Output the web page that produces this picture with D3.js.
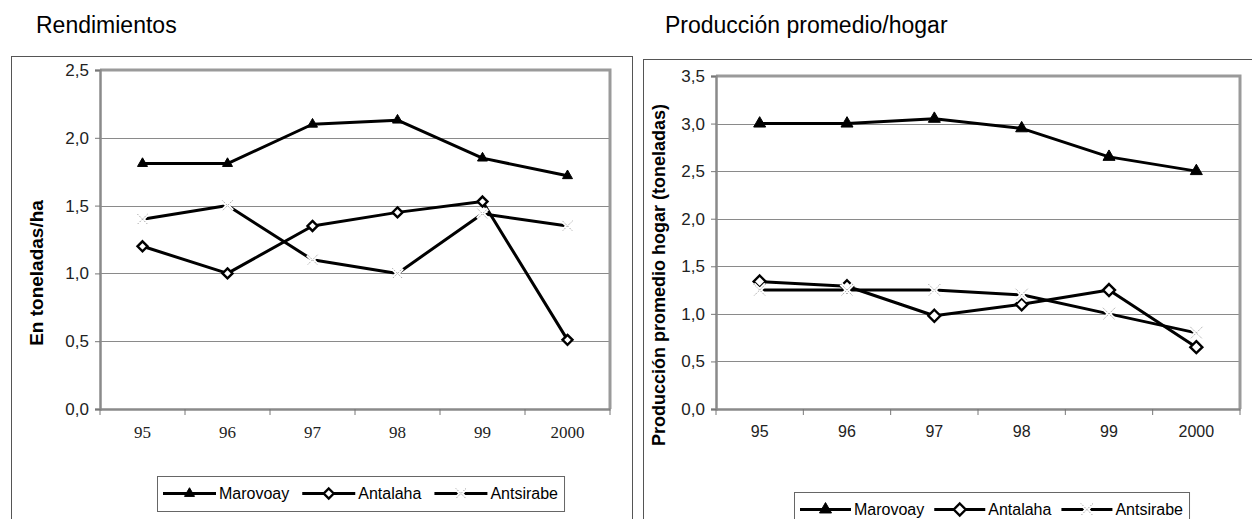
<!DOCTYPE html>
<html>
<head>
<meta charset="utf-8">
<script src="https://cdn.jsdelivr.net/npm/d3@7"></script>
<style>
  html, body { margin: 0; padding: 0; background: #fff; }
  svg { display: block; }
</style>
</head>
<body>
<svg id="chart" width="1252" height="519"></svg>
<script>
// ---------------- DATA ----------------
const years = ["95", "96", "97", "98", "99", "2000"];
const seriesNames = ["Marovoay", "Antalaha", "Antsirabe"];

const rendMarovoay  = [1.81, 1.81, 2.10, 2.13, 1.85, 1.72];
const rendAntalaha  = [1.20, 1.00, 1.35, 1.45, 1.53, 0.51];
const rendAntsirabe = [1.40, 1.50, 1.10, 1.00, 1.44, 1.35];

const prodMarovoay  = [3.00, 3.00, 3.05, 2.95, 2.65, 2.50];
const prodAntalaha  = [1.34, 1.29, 0.98, 1.10, 1.25, 0.65];
const prodAntsirabe = [1.25, 1.25, 1.25, 1.20, 1.00, 0.80];

const rendTicks = [0, 0.5, 1.0, 1.5, 2.0, 2.5];
const prodTicks = [0, 0.5, 1.0, 1.5, 2.0, 2.5, 3.0, 3.5];

const rendTitle = "Rendimientos";
const prodTitle = "Producción promedio/hogar";
const rendYLabel = "En toneladas/ha";
const prodYLabel = "Producción promedio hogar (toneladas)";

// ---------------- DRAWING ----------------
const svg = d3.select("#chart");
const SANS = "'Liberation Sans', Arial, sans-serif";
const SERIF = "'Liberation Serif', 'Times New Roman', serif";
const fmt = v => d3.format(".1f")(v).replace(".", ",");

function markerPath(kind, s) {
  if (kind === "triangle") {
    const h = s * Math.sqrt(3) / 2;
    return `M0,${-h * 2 / 3}L${s / 2},${h / 3}L${-s / 2},${h / 3}Z`;
  }
  if (kind === "diamond") {
    const r = s / 2;
    return `M0,${-r}L${r},0L0,${r}L${-r},0Z`;
  }
  const r = s / 2;
  return `M${-r},${-r}L${r},${r}M${r},${-r}L${-r},${r}`;
}

function drawMarker(g, kind, x, y, s) {
  if (kind === "triangle") {
    g.append("path").attr("d", markerPath(kind, s))
      .attr("transform", `translate(${x},${y})`)
      .attr("fill", "#000").attr("stroke", "#000").attr("stroke-width", 1);
  } else if (kind === "diamond") {
    g.append("path").attr("d", markerPath(kind, s))
      .attr("transform", `translate(${x},${y})`)
      .attr("fill", "#fff").attr("stroke", "#000").attr("stroke-width", 2.4);
  } else {
    g.append("path").attr("d", markerPath(kind, s))
      .attr("transform", `translate(${x},${y})`)
      .attr("fill", "none").attr("stroke", "#fff").attr("stroke-width", 4);
    g.append("path").attr("d", markerPath(kind, s))
      .attr("transform", `translate(${x},${y})`)
      .attr("fill", "none").attr("stroke", "#888").attr("stroke-width", 1)
      .attr("stroke-dasharray", "1,1.5");
  }
}

const kinds = ["triangle", "diamond", "x"];

function panel(cfg) {
  const g = svg.append("g");
  // outer frame
  g.append("rect")
    .attr("x", cfg.frame.x + 0.5).attr("y", cfg.frame.y + 0.5)
    .attr("width", cfg.frame.w).attr("height", cfg.frame.h)
    .attr("fill", "none").attr("stroke", "#555").attr("stroke-width", 1);

  // title
  g.append("text").attr("x", cfg.titleX).attr("y", 33)
    .attr("font-family", SANS).attr("font-size", 23).attr("fill", "#000")
    .text(cfg.title);

  const x = d3.scaleBand().domain(years).range([cfg.plot.l, cfg.plot.r]).padding(0);
  const y = d3.scaleLinear().domain([0, d3.max(cfg.ticks)]).range([cfg.plot.b, cfg.plot.t]);
  const cx = d => x(d) + x.bandwidth() / 2;

  // gridlines
  g.append("g").selectAll("line").data(cfg.ticks.slice(1)).join("line")
    .attr("x1", cfg.plot.l).attr("x2", cfg.plot.r)
    .attr("y1", d => Math.round(y(d)) + 0.5).attr("y2", d => Math.round(y(d)) + 0.5)
    .attr("stroke", "#8a8a8a").attr("stroke-width", 1);

  // plot border top & right (thick gray)
  g.append("path")
    .attr("d", `M${cfg.plot.l},${cfg.plot.t}H${cfg.plot.r}V${cfg.plot.b}`)
    .attr("fill", "none").attr("stroke", "#9a9a9a").attr("stroke-width", 3);

  // Y axis
  const yAxis = d3.axisLeft(y).tickValues(cfg.ticks).tickFormat(fmt).tickSize(5).tickPadding(6);
  const ya = g.append("g").attr("transform", `translate(${cfg.plot.l},0)`).call(yAxis);
  ya.select(".domain").attr("stroke", "#8a8a8a").attr("stroke-width", 2.5);
  ya.selectAll(".tick line").attr("stroke", "#777");
  ya.selectAll(".tick text").style("font-family", SANS).style("font-size", "17px").attr("fill", "#222");

  // X axis
  const xAxis = d3.axisBottom(x).tickSize(0).tickPadding(17);
  const xa = g.append("g").attr("transform", `translate(0,${cfg.plot.b})`).call(xAxis);
  xa.select(".domain").attr("stroke", "#8a8a8a").attr("stroke-width", 2.5);
  xa.selectAll(".tick text").style("font-family", cfg.xFont).style("font-size", cfg.xFontSize + "px")
    .attr("fill", "#222");
  // tick marks at category boundaries
  const bounds = years.map(d => x(d)).concat([cfg.plot.r]);
  g.append("g").selectAll("line").data(bounds).join("line")
    .attr("x1", d => d).attr("x2", d => d)
    .attr("y1", cfg.plot.b).attr("y2", cfg.plot.b + 6)
    .attr("stroke", "#777").attr("stroke-width", 1);

  // y title
  g.append("text")
    .attr("transform", `translate(${cfg.yTitleX},${cfg.yTitleY}) rotate(-90)`)
    .attr("text-anchor", "middle").attr("dominant-baseline", "central")
    .attr("font-family", SANS).attr("font-weight", "bold").attr("font-size", cfg.yTitleSize)
    .attr("fill", "#000")
    .text(cfg.yLabel);

  // lines
  const line = d3.line().x((d, i) => cx(years[i])).y(d => y(d));
  cfg.series.forEach((vals) => {
    g.append("path").datum(vals).attr("d", line)
      .attr("fill", "none").attr("stroke", "#000").attr("stroke-width", 3)
      .attr("stroke-linejoin", "round");
  });
  cfg.series.forEach((vals, si) => {
    vals.forEach((v, i) => drawMarker(g, kinds[si], cx(years[i]), y(v), cfg.markerSize));
  });

  // legend
  const lg = g.append("g");
  const box = lg.append("rect").attr("fill", "#fff").attr("stroke", "#666").attr("stroke-width", 1);
  let cur = cfg.legend.x + 6;
  const ly = cfg.legend.y + cfg.legend.h / 2;
  seriesNames.forEach((name, si) => {
    lg.append("line").attr("x1", cur).attr("x2", cur + cfg.legend.lineLen)
      .attr("y1", ly).attr("y2", ly).attr("stroke", "#000").attr("stroke-width", 3);
    drawMarker(lg, kinds[si], cur + cfg.legend.lineLen / 2, ly, cfg.markerSize);
    const t = lg.append("text").attr("x", cur + cfg.legend.lineLen + 3).attr("y", ly)
      .attr("dominant-baseline", "central")
      .attr("font-family", SANS).attr("font-size", 16).attr("fill", "#000")
      .text(name);
    cur = cur + cfg.legend.lineLen + 3 + t.node().getComputedTextLength() + cfg.legend.gap;
  });
  const boxW = cur - cfg.legend.gap + 6 - cfg.legend.x;
  box.attr("x", cfg.legend.x + 0.5).attr("y", cfg.legend.y + 0.5)
    .attr("width", boxW).attr("height", cfg.legend.h);
}

panel({
  frame: { x: 11, y: 56, w: 621, h: 500 },
  titleX: 36, title: rendTitle,
  plot: { l: 100, t: 70, r: 610, b: 409 },
  ticks: rendTicks,
  xFont: SERIF, xFontSize: 17,
  yTitleX: 36, yTitleY: 273, yTitleSize: 19, yLabel: rendYLabel,
  series: [rendMarovoay, rendAntalaha, rendAntsirabe],
  markerSize: 10,
  legend: { x: 157, y: 476, h: 35, lineLen: 53, gap: 13 }
});

panel({
  frame: { x: 643, y: 59, w: 640, h: 500 },
  titleX: 665, title: prodTitle,
  plot: { l: 716, t: 76, r: 1240, b: 409 },
  ticks: prodTicks,
  xFont: SANS, xFontSize: 16,
  yTitleX: 659, yTitleY: 275, yTitleSize: 18, yLabel: prodYLabel,
  series: [prodMarovoay, prodAntalaha, prodAntsirabe],
  markerSize: 12,
  legend: { x: 794, y: 492, h: 35, lineLen: 51, gap: 10 }
});
</script>
</body>
</html>
